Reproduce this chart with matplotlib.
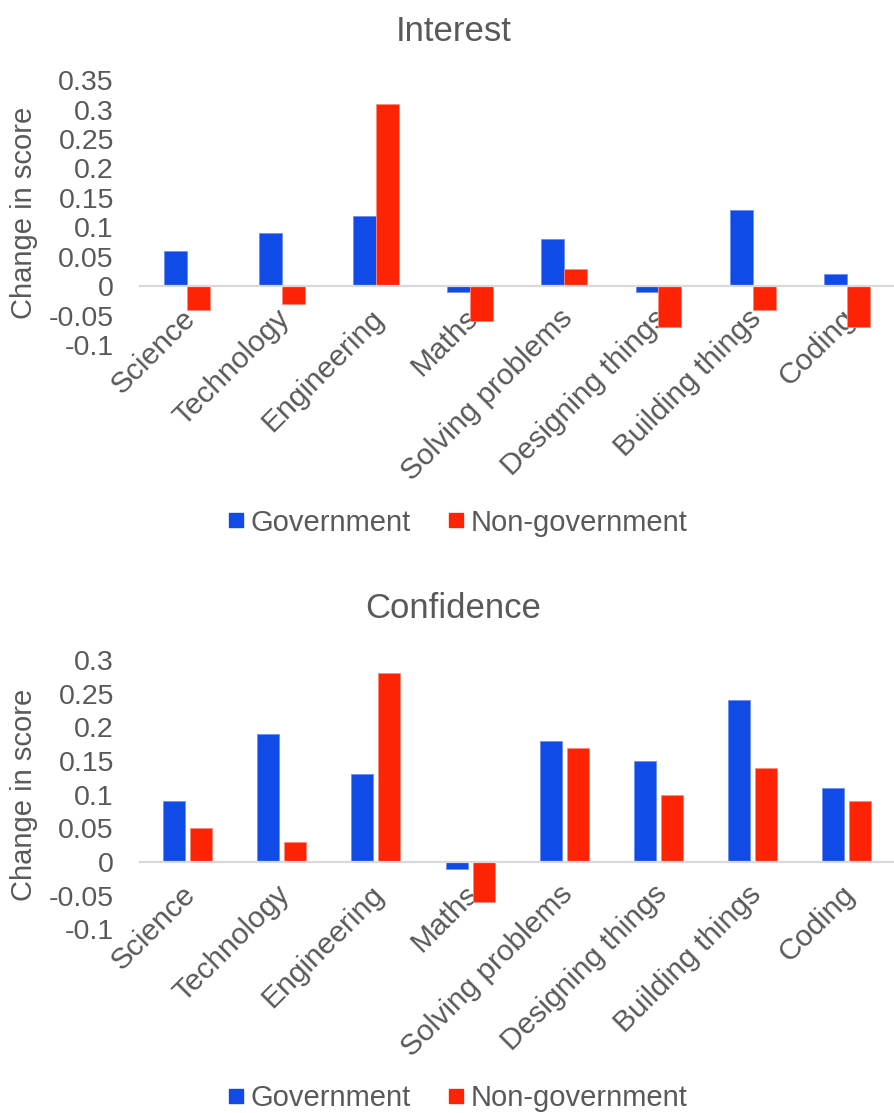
import matplotlib
matplotlib.use("Agg")
import matplotlib.pyplot as plt
import matplotlib.transforms as mtransforms
import numpy as np
from matplotlib.lines import Line2D

TEXT = "#595959"
GOV = "#104BE8"
NONGOV = "#FF2306"
ZERO = "#D9D9D9"

categories = ["Science", "Technology", "Engineering", "Maths",
              "Solving problems", "Designing things", "Building things", "Coding"]

interest_gov = [0.06, 0.09, 0.12, -0.01, 0.08, -0.01, 0.13, 0.02]
interest_nongov = [-0.04, -0.03, 0.31, -0.06, 0.03, -0.07, -0.04, -0.07]

confidence_gov = [0.09, 0.19, 0.13, -0.01, 0.18, 0.15, 0.24, 0.11]
confidence_nongov = [0.05, 0.03, 0.28, -0.06, 0.17, 0.10, 0.14, 0.09]

interest_ticks = [-0.1, -0.05, 0, 0.05, 0.1, 0.15, 0.2, 0.25, 0.3, 0.35]
confidence_ticks = [-0.1, -0.05, 0, 0.05, 0.1, 0.15, 0.2, 0.25, 0.3]

plt.rcParams.update({
    "font.family": "Liberation Sans",
    "font.size": 21,
    "text.color": TEXT,
    "xtick.color": TEXT,
    "ytick.color": TEXT,
})


def fmt(v):
    return f"{v:g}"


def bar_panel(fig, ax, gov, nongov, ticks, offset, width):
    x = np.arange(len(categories))
    ax.set_axisbelow(True)
    ax.bar(x - offset, gov, width, color=GOV, edgecolor="#6d8ff2", linewidth=0.6, zorder=3)
    ax.bar(x + offset, nongov, width, color=NONGOV, edgecolor="#ff8a78", linewidth=0.6, zorder=3)
    ax.set_xlim(-0.5, len(categories) - 0.5)
    ax.set_ylim(ticks[0], ticks[-1])
    ax.set_yticks(ticks)
    ax.set_yticklabels([fmt(t) for t in ticks])
    ax.tick_params(axis="y", length=0, pad=19, labelsize=20.5)
    for side in ("top", "right", "left"):
        ax.spines[side].set_visible(False)
    # category axis sits on the zero line, as in a spreadsheet chart
    ax.spines["bottom"].set_position(("data", 0))
    ax.spines["bottom"].set_color(ZERO)
    ax.spines["bottom"].set_linewidth(1.6)
    ax.spines["bottom"].set_zorder(4)
    ax.set_xticks(x)
    ax.set_xticklabels(categories)
    ax.tick_params(axis="x", length=0, pad=20, labelsize=21.5)
    shift = mtransforms.ScaledTranslation(4 / 100, 0, fig.dpi_scale_trans)
    for lab in ax.get_xticklabels():
        lab.set_rotation(45)
        lab.set_ha("right")
        lab.set_va("center")
        lab.set_rotation_mode("anchor")
        lab.set_transform(lab.get_transform() + shift)


fig = plt.figure(figsize=(8.94, 11.13), dpi=100)

ax1 = fig.add_axes([0.157, 0.690, 0.843, 0.238])
bar_panel(fig, ax1, interest_gov, interest_nongov, interest_ticks, 0.122, 0.244)

ax2 = fig.add_axes([0.157, 0.165, 0.843, 0.242])
bar_panel(fig, ax2, confidence_gov, confidence_nongov, confidence_ticks, 0.143, 0.233)

fig.text(0.507, 0.9632, "Interest", ha="center", va="baseline", fontsize=25)
fig.text(0.507, 0.4447, "Confidence", ha="center", va="baseline", fontsize=25)

for ax in (ax1, ax2):
    bb = ax.get_position()
    fig.text(24.5 / 894, (bb.y0 + bb.y1) / 2, "Change in score",
             rotation=90, ha="center", va="center", fontsize=21)

handles = [
    Line2D([], [], marker="s", linestyle="none", markersize=10.5, color=GOV),
    Line2D([], [], marker="s", linestyle="none", markersize=10.5, color=NONGOV),
]
labels = ["Government", "Non-government"]
for y in (0.5305, 0.0135):
    fig.legend(handles, labels, loc="center", bbox_to_anchor=(0.512, y), ncol=2,
               frameon=False, handlelength=0.55, handletextpad=0.2,
               columnspacing=1.3, fontsize=21)

fig.savefig("out.png", dpi=100, facecolor="white")
